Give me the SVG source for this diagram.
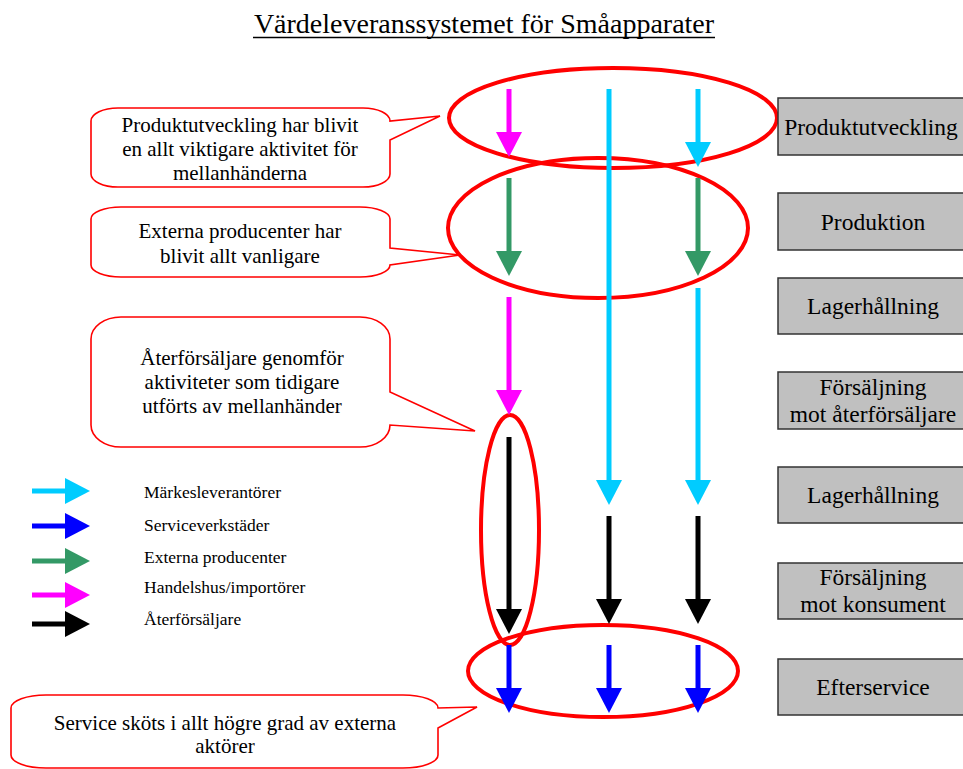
<svg xmlns="http://www.w3.org/2000/svg" width="963" height="769" viewBox="0 0 963 769">
  <style>
    text { font-family: "Liberation Serif", "Times New Roman", serif; fill: #000; }
    .title { font-size: 28px; text-anchor: middle; }
    .stage rect { fill: #c0c0c0; stroke: #333; stroke-width: 1.5; }
    .stage text { font-size: 23.5px; text-anchor: middle; }
    .callout path { fill: #fff; stroke: #ff0000; stroke-width: 1.6; stroke-linejoin: miter; }
    .callout text { font-size: 21px; text-anchor: middle; }
    .ring { fill: none; stroke: #ff0000; stroke-width: 4; }
    .legend text { font-size: 17.5px; }
    .flow { stroke-width: 5; fill: none; }
    .cyan { stroke: #00ccff; }
    .magenta { stroke: #ff00ff; }
    .green { stroke: #339966; }
    .blue { stroke: #0000ff; }
    .black { stroke: #000; }
  </style>
  <defs>
    <marker id="head-cyan" markerUnits="userSpaceOnUse" markerWidth="25" markerHeight="26" viewBox="0 0 25 26" refX="0" refY="13" orient="auto"><path d="M0,0 L25,13 L0,26 Z" fill="#00ccff"/></marker>
    <marker id="head-magenta" markerUnits="userSpaceOnUse" markerWidth="25" markerHeight="26" viewBox="0 0 25 26" refX="0" refY="13" orient="auto"><path d="M0,0 L25,13 L0,26 Z" fill="#ff00ff"/></marker>
    <marker id="head-green" markerUnits="userSpaceOnUse" markerWidth="25" markerHeight="26" viewBox="0 0 25 26" refX="0" refY="13" orient="auto"><path d="M0,0 L25,13 L0,26 Z" fill="#339966"/></marker>
    <marker id="head-blue" markerUnits="userSpaceOnUse" markerWidth="25" markerHeight="26" viewBox="0 0 25 26" refX="0" refY="13" orient="auto"><path d="M0,0 L25,13 L0,26 Z" fill="#0000ff"/></marker>
    <marker id="head-black" markerUnits="userSpaceOnUse" markerWidth="25" markerHeight="26" viewBox="0 0 25 26" refX="0" refY="13" orient="auto"><path d="M0,0 L25,13 L0,26 Z" fill="#000"/></marker>
  </defs>

  <rect width="963" height="769" fill="#fff"/>

  <!-- Title -->
  <g id="title">
    <text class="title" x="484" y="33">Värdeleveranssystemet för Småapparater</text>
    <line x1="253" y1="37.5" x2="715" y2="37.5" stroke="#000" stroke-width="1.3"/>
  </g>

  <!-- Highlight rings -->
  <g id="rings">
    <ellipse class="ring" cx="613" cy="118" rx="164" ry="50"/>
    <ellipse class="ring" cx="598" cy="228" rx="150" ry="70"/>
    <ellipse class="ring" cx="510" cy="530" rx="29" ry="115"/>
    <ellipse class="ring" cx="603" cy="671" rx="135" ry="46"/>
  </g>

  <!-- Value-chain stages -->
  <g id="stage-produktutveckling" class="stage">
    <rect x="778" y="98" width="192" height="57"/>
    <text x="871" y="134.5">Produktutveckling</text>
  </g>
  <g id="stage-produktion" class="stage">
    <rect x="778" y="193" width="192" height="57"/>
    <text x="873" y="229.5">Produktion</text>
  </g>
  <g id="stage-lagerhallning-1" class="stage">
    <rect x="778" y="278" width="192" height="56"/>
    <text x="873" y="314">Lagerhållning</text>
  </g>
  <g id="stage-forsaljning-aterforsaljare" class="stage">
    <rect x="778" y="372" width="192" height="57"/>
    <text x="873" y="395">Försäljning</text>
    <text x="873" y="422">mot återförsäljare</text>
  </g>
  <g id="stage-lagerhallning-2" class="stage">
    <rect x="778" y="467" width="192" height="56"/>
    <text x="873" y="503">Lagerhållning</text>
  </g>
  <g id="stage-forsaljning-konsument" class="stage">
    <rect x="778" y="563" width="192" height="56"/>
    <text x="873" y="585">Försäljning</text>
    <text x="873" y="612">mot konsument</text>
  </g>
  <g id="stage-efterservice" class="stage">
    <rect x="778" y="659" width="192" height="56"/>
    <text x="873" y="695">Efterservice</text>
  </g>

  <!-- Callouts -->
  <g id="callout-produktutveckling" class="callout">
    <path d="M118,108 H363 A27,13 0 0 1 390,121 L440,116 L390,140 V174 A27,13 0 0 1 363,187 H118 A27,13 0 0 1 91,174 V121 A27,13 0 0 1 118,108 Z"/>
    <text x="240" y="132">Produktutveckling har blivit</text>
    <text x="240" y="156">en allt viktigare aktivitet för</text>
    <text x="240" y="180">mellanhänderna</text>
  </g>
  <g id="callout-producenter" class="callout">
    <path d="M121,207 H360 A30,12 0 0 1 390,219 V248 L460,255 L390,265 A30,12 0 0 1 360,277 H121 A30,12 0 0 1 91,265 V219 A30,12 0 0 1 121,207 Z"/>
    <text x="240" y="238">Externa producenter har</text>
    <text x="240" y="263">blivit allt vanligare</text>
  </g>
  <g id="callout-aterforsaljare" class="callout">
    <path d="M121,317 H360 A30,22 0 0 1 390,339 V392 L475,431 L390,425 A30,22 0 0 1 360,447 H121 A30,22 0 0 1 91,425 V339 A30,22 0 0 1 121,317 Z"/>
    <text x="242" y="365">Återförsäljare genomför</text>
    <text x="242" y="389">aktiviteter som tidigare</text>
    <text x="242" y="413">utförts av mellanhänder</text>
  </g>
  <g id="callout-service" class="callout">
    <path d="M46,695 H403 A35,13 0 0 1 438,708 L477,707 L438,728 V755 A35,13 0 0 1 403,768 H46 A35,13 0 0 1 11,755 V708 A35,13 0 0 1 46,695 Z"/>
    <text x="225" y="730">Service sköts i allt högre grad av externa</text>
    <text x="225" y="753">aktörer</text>
  </g>

  <!-- Legend -->
  <g id="legend" class="legend">
    <line class="flow cyan" x1="32" y1="491" x2="65" y2="491" marker-end="url(#head-cyan)"/>
    <text x="144" y="498">Märkesleverantörer</text>
    <line class="flow blue" x1="32" y1="526" x2="65" y2="526" marker-end="url(#head-blue)"/>
    <text x="144" y="531">Serviceverkstäder</text>
    <line class="flow green" x1="32" y1="561" x2="65" y2="561" marker-end="url(#head-green)"/>
    <text x="144" y="563">Externa producenter</text>
    <line class="flow magenta" x1="32" y1="595" x2="65" y2="595" marker-end="url(#head-magenta)"/>
    <text x="144" y="593">Handelshus/importörer</text>
    <line class="flow black" x1="32" y1="624" x2="65" y2="624" marker-end="url(#head-black)"/>
    <text x="144" y="625">Återförsäljare</text>
  </g>

  <!-- Flow arrows -->
  <g id="connectors">
    <!-- column 1 -->
    <line class="flow magenta" x1="509" y1="89" x2="509" y2="132" marker-end="url(#head-magenta)"/>
    <line class="flow green" x1="509" y1="178" x2="509" y2="251" marker-end="url(#head-green)"/>
    <line class="flow magenta" x1="509" y1="297" x2="509" y2="390" marker-end="url(#head-magenta)"/>
    <line class="flow black" x1="509" y1="437" x2="509" y2="609" marker-end="url(#head-black)"/>
    <line class="flow blue" x1="509" y1="645" x2="509" y2="688" marker-end="url(#head-blue)"/>
    <!-- column 2 -->
    <line class="flow cyan" x1="609" y1="89" x2="609" y2="480" marker-end="url(#head-cyan)"/>
    <line class="flow black" x1="609" y1="516" x2="609" y2="599" marker-end="url(#head-black)"/>
    <line class="flow blue" x1="609" y1="645" x2="609" y2="688" marker-end="url(#head-blue)"/>
    <!-- column 3 -->
    <line class="flow cyan" x1="698" y1="89" x2="698" y2="142" marker-end="url(#head-cyan)"/>
    <line class="flow green" x1="698" y1="178" x2="698" y2="251" marker-end="url(#head-green)"/>
    <line class="flow cyan" x1="698" y1="288" x2="698" y2="480" marker-end="url(#head-cyan)"/>
    <line class="flow black" x1="698" y1="516" x2="698" y2="599" marker-end="url(#head-black)"/>
    <line class="flow blue" x1="698" y1="645" x2="698" y2="688" marker-end="url(#head-blue)"/>
  </g>
</svg>
